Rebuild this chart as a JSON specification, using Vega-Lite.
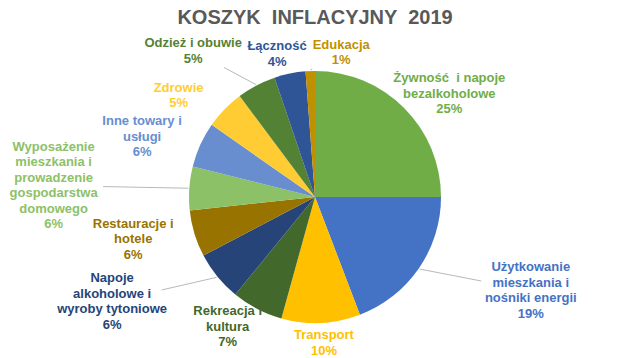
{
  "$schema": "https://vega.github.io/schema/vega-lite/v6.json",
  "width": 630,
  "height": 322,
  "autosize": {"type": "none"},
  "padding": {"top": 36, "left": 0, "right": 0, "bottom": 0},
  "background": "white",
  "title": {
    "text": "KOSZYK \u00a0INFLACYJNY \u00a02019",
    "font": "Liberation Sans",
    "fontSize": 20,
    "fontWeight": "bold",
    "color": "#595959",
    "anchor": "middle",
    "offset": 8
  },
  "config": {"view": {"stroke": null}},
  "data": {
    "values": [
      {"category": "Żywność i napoje bezalkoholowe", "label": "Żywność\u00a0\u00a0i napoje\nbezalkoholowe", "value": 25.0},
      {"category": "Użytkowanie mieszkania i nośniki energii", "label": "Użytkowanie\nmieszkania i\nnośniki energii", "value": 19.2},
      {"category": "Transport", "label": "Transport", "value": 10.1},
      {"category": "Rekreacja i kultura", "label": "Rekreacja i\nkultura", "value": 6.6},
      {"category": "Napoje alkoholowe i wyroby tytoniowe", "label": "Napoje\nalkoholowe i\nwyroby tytoniowe", "value": 6.4},
      {"category": "Restauracje i hotele", "label": "Restauracje i\nhotele", "value": 6.0},
      {"category": "Wyposażenie mieszkania i prowadzenie gospodarstwa domowego", "label": "Wyposażenie\nmieszkania i\nprowadzenie\ngospodarstwa\ndomowego", "value": 5.6},
      {"category": "Inne towary i usługi", "label": "Inne towary i\nusługi", "value": 5.8},
      {"category": "Zdrowie", "label": "Zdrowie", "value": 5.1},
      {"category": "Odzież i obuwie", "label": "Odzież i obuwie", "value": 5.0},
      {"category": "Łączność", "label": "Łączność", "value": 4.0},
      {"category": "Edukacja", "label": "Edukacja", "value": 1.2}
    ]
  },
  "transform": [
    {"window": [{"op": "row_number", "as": "ord"}]},
    {"joinaggregate": [{"op": "sum", "field": "value", "as": "total"}]},
    {"window": [{"op": "sum", "field": "value", "as": "cum"}], "sort": [{"field": "ord", "order": "ascending"}], "frame": [null, 0]},
    {"calculate": "(datum.cum - datum.value / 2) / datum.total", "as": "mid"},
    {"window": [{"op": "lag", "field": "mid", "as": "prevMid"}], "sort": [{"field": "ord", "order": "ascending"}]},
    {"calculate": "isValid(datum.prevMid) && (datum.mid - datum.prevMid) < 0.033 ? 1 : 0", "as": "nudge"},
    {"calculate": "length(split(datum.label, '\\n'))", "as": "nameLines"},
    {"calculate": "((datum.nameLines >= 3 || test(regexp('.{14,}'), datum.label)) && datum.value / datum.total < 0.2) ? 1 : 0", "as": "outer"},
    {"calculate": "2 * PI * (datum.mid + 0.028 * datum.nudge)", "as": "phi"},
    {"calculate": "datum.outer ? 262 : 190", "as": "ra"},
    {"calculate": "datum.outer ? 165 : 146", "as": "rb"},
    {"calculate": "datum.ra * sin(datum.phi)", "as": "lx"},
    {"calculate": "datum.rb * cos(datum.phi)", "as": "ly"},
    {"calculate": "datum.ly + datum.nameLines * 7.75", "as": "lyTop"},
    {"calculate": "127 * sin(2 * PI * datum.mid)", "as": "ex"},
    {"calculate": "127 * cos(2 * PI * datum.mid)", "as": "ey"},
    {"calculate": "min(1, 1.1 * min(45 / (abs(datum.ex - datum.lx) + 0.001), 7.5 * (datum.nameLines + 1) / (abs(datum.ey - datum.ly) + 0.001)))", "as": "s"},
    {"calculate": "datum.lx + (datum.ex - datum.lx) * datum.s", "as": "qx"},
    {"calculate": "datum.ly + (datum.ey - datum.ly) * datum.s", "as": "qy"},
    {"calculate": "datum.label + '\\n' + round(datum.value) + '%'", "as": "txt"}
  ],
  "layer": [
    {
      "mark": {"type": "arc", "outerRadius": 126},
      "encoding": {
        "theta": {"field": "value", "type": "quantitative", "stack": true},
        "order": {"field": "ord", "type": "quantitative"},
        "color": {
          "field": "category",
          "type": "nominal",
          "legend": null,
          "scale": {
            "domain": ["Żywność i napoje bezalkoholowe", "Użytkowanie mieszkania i nośniki energii", "Transport", "Rekreacja i kultura", "Napoje alkoholowe i wyroby tytoniowe", "Restauracje i hotele", "Wyposażenie mieszkania i prowadzenie gospodarstwa domowego", "Inne towary i usługi", "Zdrowie", "Odzież i obuwie", "Łączność", "Edukacja"],
            "range": ["#70AD47", "#4472C4", "#FFC000", "#43682B", "#264478", "#997300", "#8CC168", "#698ED0", "#FFCD33", "#548235", "#2F5597", "#BF9000"]
          }
        }
      }
    },
    {
      "transform": [{"filter": "datum.outer == 1 || datum.nudge == 1"}],
      "mark": {"type": "rule", "color": "#A6A6A6", "strokeWidth": 0.8},
      "encoding": {
        "x": {"field": "ex", "type": "quantitative", "scale": {"domain": [-315, 315], "nice": false, "zero": false}, "axis": null},
        "y": {"field": "ey", "type": "quantitative", "scale": {"domain": [-161, 161], "nice": false, "zero": false}, "axis": null},
        "x2": {"field": "qx"},
        "y2": {"field": "qy"}
      }
    },
    {
      "mark": {"type": "text", "font": "Liberation Sans", "fontWeight": "bold", "fontSize": 13, "lineHeight": 15.5, "lineBreak": "\n", "align": "center", "baseline": "middle"},
      "encoding": {
        "x": {"field": "lx", "type": "quantitative", "scale": {"domain": [-315, 315], "nice": false, "zero": false}, "axis": null},
        "y": {"field": "lyTop", "type": "quantitative", "scale": {"domain": [-161, 161], "nice": false, "zero": false}, "axis": null},
        "text": {"field": "txt"},
        "color": {"field": "category", "type": "nominal", "legend": null}
      }
    }
  ]
}
